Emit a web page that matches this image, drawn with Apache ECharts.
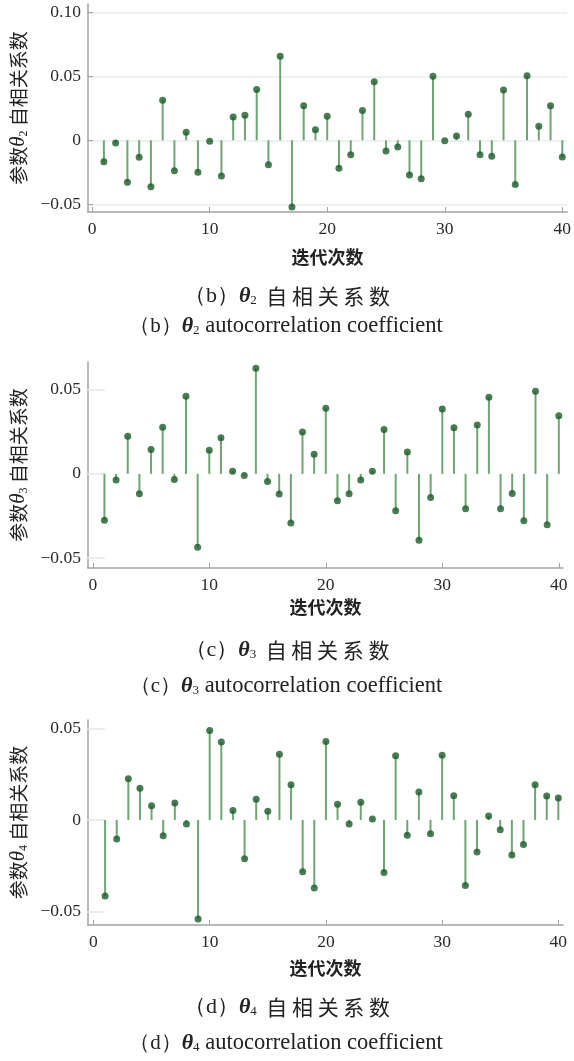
<!DOCTYPE html>
<html><head><meta charset="utf-8">
<script src="https://cdn.jsdelivr.net/npm/echarts@6/dist/echarts.min.js"></script>
<style>html,body{margin:0;padding:0;background:#fff}#c{width:574px;height:1061px}</style>
</head><body><div id="c"></div>
<script>
const lags = [1,2,3,4,5,6,7,8,9,10,11,12,13,14,15,16,17,18,19,20,21,22,23,24,25,26,27,28,29,30,31,32,33,34,35,36,37,38,39,40];
const theta2 = [-0.0167,-0.002,-0.0328,-0.0133,-0.0362,0.0313,-0.0237,0.0063,-0.025,-0.0008,-0.0279,0.0182,0.0195,0.0398,-0.019,0.0656,-0.052,0.0271,0.0083,0.0188,-0.0219,-0.0112,0.0232,0.0458,-0.0083,-0.0052,-0.0271,-0.030,0.050,-0.0003,0.0034,0.0203,-0.0112,-0.0125,0.0393,-0.0346,0.0505,0.0109,0.0271,-0.013];
const theta3 = [-0.0276,-0.0037,0.0223,-0.0118,0.0144,0.0276,-0.0034,0.046,-0.0436,0.014,0.0215,0.0016,-0.001,0.0627,-0.0045,-0.012,-0.0292,0.0249,0.0116,0.039,-0.016,-0.0118,-0.0037,0.0016,0.0264,-0.0219,0.013,-0.0394,-0.014,0.0385,0.0274,-0.0207,0.029,0.0454,-0.0207,-0.0116,-0.0278,0.0491,-0.0302,0.0345];
const theta4 = [-0.0416,-0.0104,0.0226,0.0173,0.0078,-0.0086,0.0093,-0.0022,-0.0542,0.0489,0.0427,0.0051,-0.0213,0.0113,0.0047,0.036,0.0193,-0.0283,-0.0372,0.0429,0.0086,-0.0022,0.0097,0.0005,-0.0288,0.0352,-0.0084,0.0153,-0.0075,0.0354,0.0133,-0.0359,-0.0175,0.0022,-0.0053,-0.0192,-0.0135,0.0193,0.0131,0.012];
const xTicks = [0,10,20,30,40];
const yTicks1 = [-0.05,0,0.05,0.10];
const yTicks23 = [-0.05,0,0.05];
const subs = ['2','3','4'];
const letters = ['b','c','d'];
const xLabel = '迭代次数';

const SERIF = 'Liberation Serif';
const CJK = 'Noto Sans CJK SC';
const stemColor = '#6ea672';
const dotColor = '#1c5a29';
const axisGrey = '#a3a3a3';

const panels = [
  {data: theta2, grid:{left:83, top:4, width:487, height:208}, xmin:-0.36, xmax:40.42, ymin:-0.056, ymax:0.1065, yTicks:yTicks1, nameGap:56, xNameGap:36, fullGrid:true, cap:296, eng:326},
  {data: theta3, grid:{left:77, top:362, width:486, height:206}, xmin:-0.42, xmax:40.36, ymin:-0.0559, ymax:0.0664, yTicks:yTicks23, nameGap:49, xNameGap:30, fullGrid:false, cap:650, eng:686},
  {data: theta4, grid:{left:80, top:720, width:483, height:205}, xmin:-0.48, xmax:40.4, ymin:-0.0575, ymax:0.0547, yTicks:yTicks23, nameGap:52, xNameGap:34, fullGrid:false, cap:1007, eng:1043}
];

function fmt(v){
  if (Math.abs(v) < 1e-9) return '0';
  return (v < 0 ? '\u2212' : '') + Math.abs(v).toFixed(2);
}

const grid = [], xAxis = [], yAxis = [], series = [], graphic = [];
panels.forEach((p, i) => {
  grid.push(Object.assign({containLabel:false}, p.grid));
  xAxis.push({
    type:'value', gridIndex:i, min:p.xmin, max:p.xmax,
    axisLine:{show:true, onZero:false, lineStyle:{color:axisGrey, width:1.5}},
    axisTick:{show:true, inside:true, length:5, customValues:xTicks, lineStyle:{color:axisGrey}},
    axisLabel:{show:true, customValues:xTicks, margin:8, fontFamily:SERIF, fontSize:17.5, color:'#2a2a2a'},
    splitLine:{show:false},
    name:xLabel, nameLocation:'middle', nameGap:p.xNameGap,
    nameTextStyle:{fontFamily:CJK, fontSize:18, fontWeight:'bold', color:'#222'}
  });
  yAxis.push({
    type:'value', gridIndex:i, min:p.ymin, max:p.ymax,
    axisLine:{show:true, onZero:false, lineStyle:{color:axisGrey, width:1.5}},
    axisTick:{show:true, inside:true, length:p.fullGrid?5:17, customValues:p.yTicks, lineStyle:{color:p.fullGrid?axisGrey:'#dfe9e6', width:p.fullGrid?1:1.5}},
    axisLabel:{show:true, customValues:p.yTicks, margin:7, fontFamily:SERIF, fontSize:17.5, color:'#2a2a2a', formatter:fmt},
    splitLine:{show:p.fullGrid, lineStyle:{color:'#e6eeee', width:1.5}},
    name:'{a|参数}{t|θ}{s|' + subs[i] + '}{a| 自相关系数}', nameLocation:'middle', nameGap:p.nameGap,
    nameTextStyle:{rich:{
      a:{fontFamily:CJK, fontSize:19, color:'#222'},
      t:{fontFamily:SERIF, fontStyle:'italic', fontSize:21, color:'#222'},
      s:{fontFamily:SERIF, fontSize:12, color:'#222', padding:[10,0,0,0]}
    }}
  });
  if (!p.fullGrid) {
    yAxis.push({
      type:'value', gridIndex:i, min:p.ymin, max:p.ymax, position:'right',
      axisLine:{show:false},
      axisTick:{show:true, inside:true, length:7, customValues:p.yTicks, lineStyle:{color:'#dfe9e6', width:1.5}},
      axisLabel:{show:false}, splitLine:{show:false}
    });
  }
  const yIdx = yAxis.length - (p.fullGrid ? 1 : 2);
  const pts = lags.map((l, k) => [l, p.data[k]]);
  series.push({
    type:'bar', xAxisIndex:i, yAxisIndex:yIdx, data:pts, barWidth:2,
    itemStyle:{color:stemColor}, silent:true, animation:false
  });
  series.push({
    type:'scatter', xAxisIndex:i, yAxisIndex:yIdx, data:pts, symbol:'circle', symbolSize:7,
    itemStyle:{color:dotColor}, silent:true, animation:false, z:3
  });
  graphic.push({
    type:'text', x:287, y:p.cap,
    style:{
      text:'{p|（' + letters[i] + '）}{t|θ}{s|' + subs[i] + '}{c|  自 相 关 系 数}',
      align:'center', verticalAlign:'middle',
      rich:{
        p:{fontFamily:SERIF, fontSize:22, fill:'#222'},
        t:{fontFamily:SERIF, fontStyle:'italic', fontWeight:'bold', fontSize:22, fill:'#222'},
        s:{fontFamily:SERIF, fontSize:13, fill:'#222', padding:[10,0,0,0]},
        c:{fontFamily:CJK, fontSize:21, fill:'#222'}
      }
    }
  });
  graphic.push({
    type:'text', x:286, y:p.eng,
    style:{
      text:'{p|（' + letters[i] + '）}{t|θ}{s|' + subs[i] + '}{e| autocorrelation coefficient}',
      align:'center', verticalAlign:'middle',
      rich:{
        p:{fontFamily:SERIF, fontSize:21, fill:'#222'},
        t:{fontFamily:SERIF, fontStyle:'italic', fontWeight:'bold', fontSize:22, fill:'#222'},
        s:{fontFamily:SERIF, fontSize:13, fill:'#222', padding:[10,0,0,0]},
        e:{fontFamily:SERIF, fontSize:22.5, fill:'#222'}
      }
    }
  });
});

const chart = echarts.init(document.getElementById('c'), null, {renderer:'canvas'});
chart.setOption({animation:false, backgroundColor:'#fff', grid, xAxis, yAxis, series, graphic});
</script>
</body></html>
